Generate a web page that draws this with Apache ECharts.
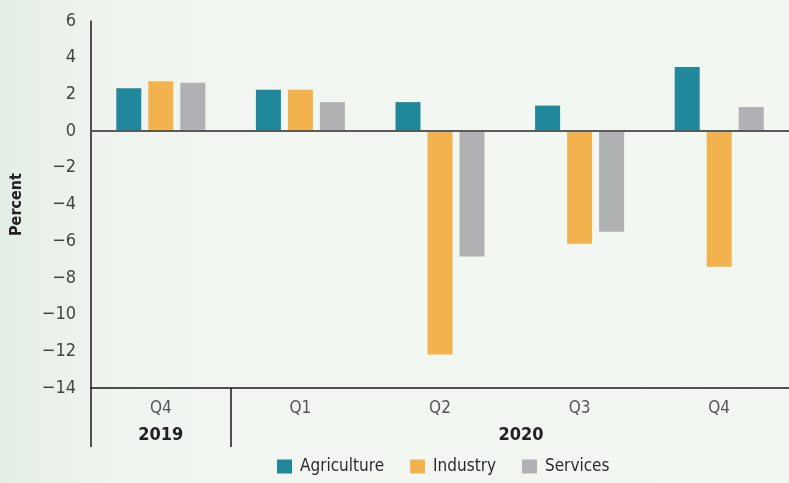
<!DOCTYPE html>
<html lang="en">
<head>
    <meta charset="UTF-8">
    <title>Growth by sector</title>
    <script src="https://cdn.jsdelivr.net/npm/echarts@6.0.0/dist/echarts.min.js"></script>
    <style>
        html, body, #chart {
            width: 100%;
            height: 100%;
            margin: 0;
            padding: 0;
        }
        body {
            overflow: hidden;
        }
    </style>
</head>
<body>
    <div id="chart"></div>
    <script>
        // data
        const quarters = ['Q4', 'Q1', 'Q2', 'Q3', 'Q4'];
        const years = ['2019', '2020'];
        const yearCentres = [0.5, 3.08];  // in category units along the axis
        const yearBreaks = [0, 1];        // separator ticks below the axis
        const agriculture = [2.34, 2.26, 1.58, 1.39, 3.49];
        const industry = [2.72, 2.26, -12.17, -6.14, -7.39];
        const services = [2.64, 1.58, -6.83, -5.49, 1.31];

        const font = "'DejaVu Sans Condensed', 'Liberation Sans Narrow', sans-serif";

        var chart = echarts.init(document.getElementById('chart'));

        var option = {
            backgroundColor: {
                type: 'linear', x: 0, y: 0, x2: 1, y2: 0,
                colorStops: [
                    { offset: 0, color: '#e4eee4' },
                    { offset: 0.12, color: '#eef4ed' },
                    { offset: 0.3, color: '#f1f6f1' },
                    { offset: 1, color: '#f2f7f2' }
                ]
            },
            animation: false,
            textStyle: { fontFamily: font },
            grid: { left: 91, right: 0, top: 21, bottom: 95 },
            legend: {
                data: ['Agriculture', 'Industry', 'Services'],
                left: 272,
                bottom: 3,
                itemWidth: 15,
                itemHeight: 14,
                itemGap: 26,
                icon: 'rect',
                textStyle: { fontFamily: font, fontSize: 17, color: '#2b2b2b', padding: [0, 0, 0, 3] }
            },
            xAxis: [
                {
                    type: 'category',
                    data: quarters,
                    axisLine: { onZero: false, lineStyle: { color: '#1a1a1a', width: 1.5 } },
                    axisTick: { show: false },
                    axisLabel: { fontSize: 17, color: '#555', margin: 12, fontFamily: font }
                },
                {
                    type: 'value',
                    min: 0,
                    max: 5,
                    position: 'bottom',
                    axisLine: { show: false, onZero: false },
                    splitLine: { show: false },
                    axisTick: {
                        show: true,
                        customValues: yearBreaks,
                        length: 59,
                        lineStyle: { color: '#1a1a1a', width: 1.5 }
                    },
                    axisLabel: {
                        customValues: yearCentres,
                        formatter: function (v) {
                            return years[yearCentres.indexOf(v)];
                        },
                        fontSize: 18,
                        fontWeight: 'bold',
                        color: '#222',
                        margin: 38,
                        fontFamily: font
                    }
                }
            ],
            yAxis: {
                type: 'value',
                min: -14,
                max: 6,
                interval: 2,
                name: 'Percent',
                nameLocation: 'middle',
                nameGap: 66,
                nameTextStyle: { fontSize: 16, fontWeight: 'bold', color: '#222', fontFamily: font },
                axisLine: { show: true, onZero: false, lineStyle: { color: '#1a1a1a', width: 1.5 } },
                axisTick: { show: false },
                splitLine: { show: false },
                axisLabel: {
                    fontSize: 18,
                    color: '#444',
                    margin: 15,
                    fontFamily: font,
                    formatter: function (v) {
                        return String(v).replace('-', '\u2212');
                    }
                }
            },
            series: [
                {
                    name: 'Agriculture',
                    type: 'bar',
                    data: agriculture,
                    barWidth: 25,
                    barGap: '28%',
                    itemStyle: { color: '#21879a' },
                    markLine: {
                        silent: true,
                        symbol: 'none',
                        label: { show: false },
                        lineStyle: { color: '#5a5a5a', width: 2, type: 'solid' },
                        data: [{ yAxis: 0 }]
                    }
                },
                {
                    name: 'Industry',
                    type: 'bar',
                    data: industry,
                    barWidth: 25,
                    barGap: '28%',
                    itemStyle: { color: '#f2b24d' }
                },
                {
                    name: 'Services',
                    type: 'bar',
                    data: services,
                    barWidth: 25,
                    barGap: '28%',
                    itemStyle: { color: '#b0b1b2' }
                }
            ]
        };

        chart.setOption(option);
        window.addEventListener('resize', function () {
            chart.resize();
        });
    </script>
</body>
</html>
